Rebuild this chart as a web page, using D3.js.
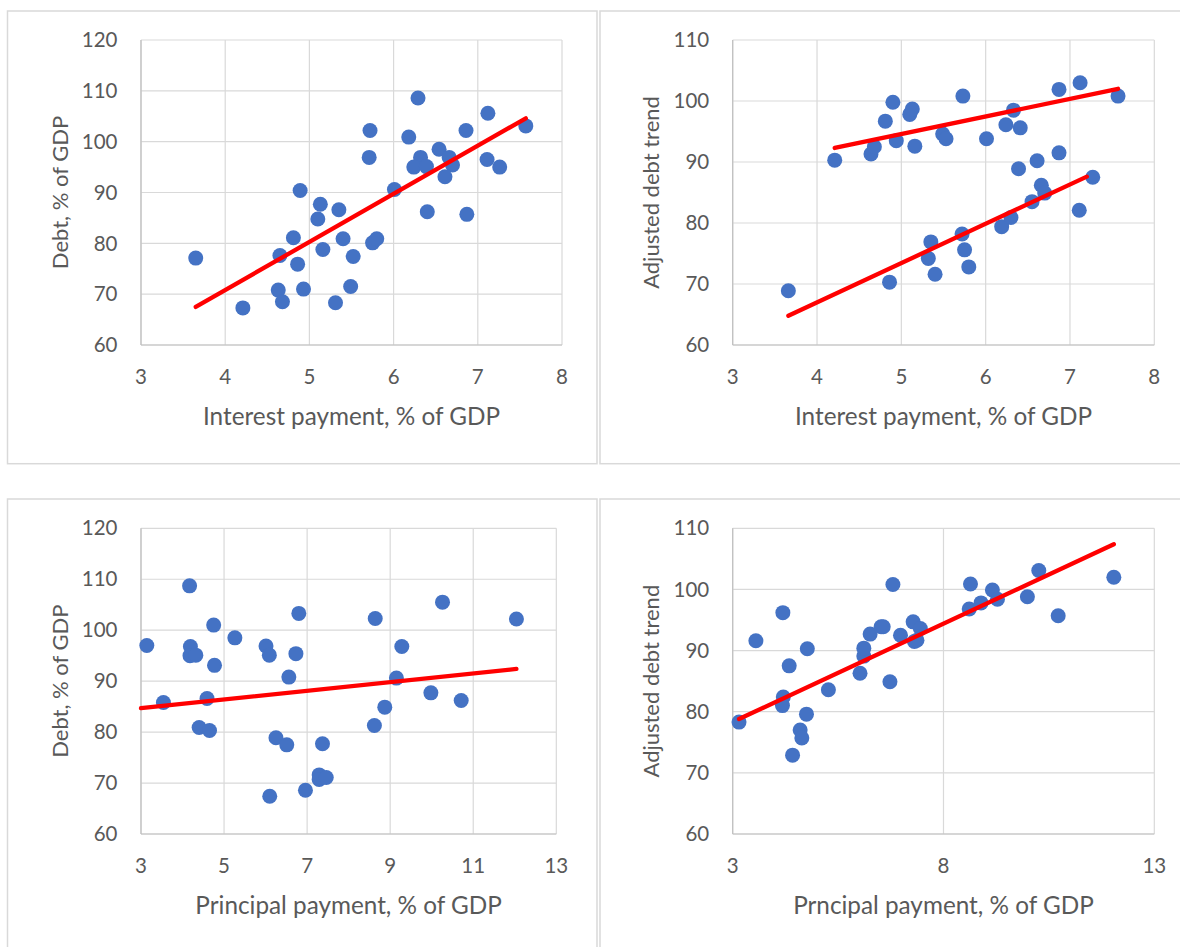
<!DOCTYPE html>
<html><head><meta charset="utf-8">
<script src="https://cdn.jsdelivr.net/npm/d3@7"></script>
<style>
body{margin:0;background:#fff}
svg text{font-family:Lato,"Open Sans",sans-serif;fill:#595959}
</style>
</head><body>
<svg id="c" width="1180" height="947"></svg>
<script>
// ---------- data ----------
const interestTicks = [3,4,5,6,7,8];
const principalTicksA = [3,5,7,9,11,13];
const principalTicksB = [3,8,13];
const debtTicks = [60,70,80,90,100,110,120];
const adjTicks = [60,70,80,90,100,110];

// Panel 1: Debt vs interest payment
const p1X = [3.65,4.21,4.63,4.68,4.65,4.81,4.86,4.89,4.93,5.13,5.10,5.16,5.35,5.40,5.52,5.49,5.31,5.72,5.71,5.75,5.80,6.01,6.29,6.18,6.32,6.24,6.39,6.40,6.54,6.66,6.70,6.61,6.86,6.87,7.12,7.11,7.26,7.57];
const p1Y = [77.1,67.3,70.8,68.5,77.6,81.1,75.9,90.4,71.0,87.7,84.8,78.8,86.6,80.9,77.4,71.5,68.3,102.2,96.9,80.1,80.9,90.6,108.6,100.9,96.9,95.0,95.1,86.2,98.5,96.9,95.4,93.1,102.2,85.7,105.6,96.5,95.0,103.1];
const p1TrendX = [3.65,7.57];
const p1TrendY = [67.5,104.6];

// Panel 2: Adjusted debt trend vs interest payment
const p2X = [3.66,4.21,4.64,4.68,4.81,4.90,4.94,4.86,5.10,5.13,5.16,5.35,5.32,5.40,5.49,5.53,5.73,5.72,5.75,5.80,6.01,6.19,6.30,6.24,6.33,6.41,6.39,6.55,6.61,6.66,6.70,6.87,6.87,7.12,7.11,7.27,7.57];
const p2Y = [68.9,90.3,91.3,92.5,96.7,99.8,93.5,70.3,97.8,98.7,92.6,76.9,74.2,71.6,94.6,93.8,100.8,78.2,75.6,72.8,93.8,79.4,80.9,96.1,98.5,95.6,88.9,83.5,90.2,86.2,84.9,101.9,91.5,103.0,82.1,87.5,100.8];
const p2TrendUpX = [4.21,7.57];
const p2TrendUpY = [92.3,102.0];
const p2TrendLoX = [3.66,7.20];
const p2TrendLoY = [64.8,87.6];

// Panel 3: Debt vs principal payment
const p3X = [3.14,3.54,4.17,4.19,4.18,4.32,4.40,4.65,4.59,4.75,4.77,5.26,6.01,6.09,6.25,6.51,6.10,6.56,6.73,6.80,6.96,7.29,7.29,7.46,7.37,8.64,8.62,8.87,9.15,9.28,9.98,10.26,10.71,12.04];
const p3Y = [97.0,85.8,108.7,96.8,95.0,95.1,80.9,80.3,86.6,101.0,93.1,98.5,96.9,95.1,78.9,77.5,67.4,90.8,95.4,103.3,68.6,71.6,70.7,71.1,77.7,102.3,81.3,84.9,90.6,96.8,87.7,105.5,86.2,102.2];
const p3TrendX = [3.0,12.04];
const p3TrendY = [84.7,92.4];

// Panel 4: Adjusted debt trend vs principal payment
const p4X = [3.15,3.55,4.19,4.20,4.18,4.34,4.77,4.75,4.60,4.64,4.42,5.27,6.02,6.11,6.11,6.26,6.52,6.57,6.73,6.80,6.98,7.28,7.45,7.31,7.37,8.64,8.61,8.89,9.16,9.28,9.99,10.26,10.72,12.04];
const p4Y = [78.3,91.6,96.2,82.4,81.0,87.5,90.3,79.6,77.0,75.7,72.9,83.6,86.3,89.1,90.4,92.7,93.9,93.9,84.9,100.8,92.5,94.7,93.6,91.5,91.7,100.9,96.8,97.8,99.9,98.4,98.8,103.1,95.7,102.0];
const p4TrendX = [3.15,12.04];
const p4TrendY = [78.8,107.4];

const yTitles = ["Debt, % of GDP","Adjusted debt trend","Debt, % of GDP","Adjusted debt trend"];
const xTitles = ["Interest payment, % of GDP","Interest payment, % of GDP","Principal payment, % of GDP","Prncipal payment, % of GDP"];

// ---------- layout ----------
const panels = [
  {box:[7.5,11,597,463.7], plot:[141,40,562,345], xd:[3,8], yd:[60,120], xt:interestTicks, yt:debtTicks,
   xs:p1X, ys:p1Y, trends:[[p1TrendX,p1TrendY]], yTitle:yTitles[0], xTitle:xTitles[0]},
  {box:[600,11,1182,463.7], plot:[732.7,40,1154.3,345], xd:[3,8], yd:[60,110], xt:interestTicks, yt:adjTicks,
   xs:p2X, ys:p2Y, trends:[[p2TrendUpX,p2TrendUpY],[p2TrendLoX,p2TrendLoY]], yTitle:yTitles[1], xTitle:xTitles[1]},
  {box:[7.5,499,597,960], plot:[141,528.3,556.3,834], xd:[3,13], yd:[60,120], xt:principalTicksA, yt:debtTicks,
   xs:p3X, ys:p3Y, trends:[[p3TrendX,p3TrendY]], yTitle:yTitles[2], xTitle:xTitles[2]},
  {box:[600,499,1182,960], plot:[732.7,528.3,1154.3,834], xd:[3,13], yd:[60,110], xt:principalTicksB, yt:adjTicks,
   xs:p4X, ys:p4Y, trends:[[p4TrendX,p4TrendY]], yTitle:yTitles[3], xTitle:xTitles[3]}
];

const svg = d3.select("#c");
svg.append("rect").attr("width",1180).attr("height",947).attr("fill","#fff");

panels.forEach(p => {
  const [bx0,by0,bx1,by1] = p.box;
  svg.append("rect").attr("x",bx0).attr("y",by0).attr("width",bx1-bx0).attr("height",by1-by0)
    .attr("fill","#fff").attr("stroke","#d9d9d9").attr("stroke-width",1.5);

  const [l,t,r,b] = p.plot;
  const x = d3.scaleLinear().domain(p.xd).range([l,r]);
  const y = d3.scaleLinear().domain(p.yd).range([b,t]);
  const g = svg.append("g");

  // gridlines
  g.selectAll(".vg").data(p.xt).join("line")
    .attr("x1",d=>x(d)).attr("x2",d=>x(d)).attr("y1",t).attr("y2",b)
    .attr("stroke","#d9d9d9").attr("stroke-width",1.2);
  g.selectAll(".hg").data(p.yt).join("line")
    .attr("x1",l).attr("x2",r).attr("y1",d=>y(d)).attr("y2",d=>y(d))
    .attr("stroke","#d9d9d9").attr("stroke-width",1.2);
  g.append("line").attr("x1",l).attr("x2",l).attr("y1",t).attr("y2",b).attr("stroke","#bfbfbf").attr("stroke-width",1.2);
  g.append("line").attr("x1",l).attr("x2",r).attr("y1",b).attr("y2",b).attr("stroke","#bfbfbf").attr("stroke-width",1.2);

  // tick labels
  g.selectAll(".xl").data(p.xt).join("text")
    .attr("x",d=>x(d)).attr("y",b+32).attr("dy","0.35em")
    .attr("text-anchor","middle").attr("font-size",20.5).text(d=>d);
  g.selectAll(".yl").data(p.yt).join("text")
    .attr("x",l-23.5).attr("y",d=>y(d)).attr("dy","0.35em")
    .attr("text-anchor","end").attr("font-size",20.5).text(d=>d);

  // titles
  g.append("text").attr("x",(l+r)/2).attr("y",b+71).attr("dy","0.35em")
    .attr("text-anchor","middle").attr("font-size",24.3).text(p.xTitle);
  g.append("text").attr("transform",`translate(${l-81},${(t+b)/2}) rotate(-90)`).attr("dy","0.35em")
    .attr("text-anchor","middle").attr("font-size",22).text(p.yTitle);

  // points
  const pts = p.xs.map((v,i)=>[v,p.ys[i]]);
  g.selectAll(".pt").data(pts).join("circle")
    .attr("cx",d=>x(d[0])).attr("cy",d=>y(d[1])).attr("r",7.5).attr("fill","#4472C4");

  // trend lines
  p.trends.forEach(([tx,ty]) => {
    const pts2 = tx.map((v,i)=>[v,ty[i]]);
    g.append("path").datum(pts2)
      .attr("d",d3.line().x(d=>x(d[0])).y(d=>y(d[1])))
      .attr("stroke","#FF0000").attr("stroke-width",4.3).attr("fill","none").attr("stroke-linecap","round");
  });
});
</script>
</body></html>
